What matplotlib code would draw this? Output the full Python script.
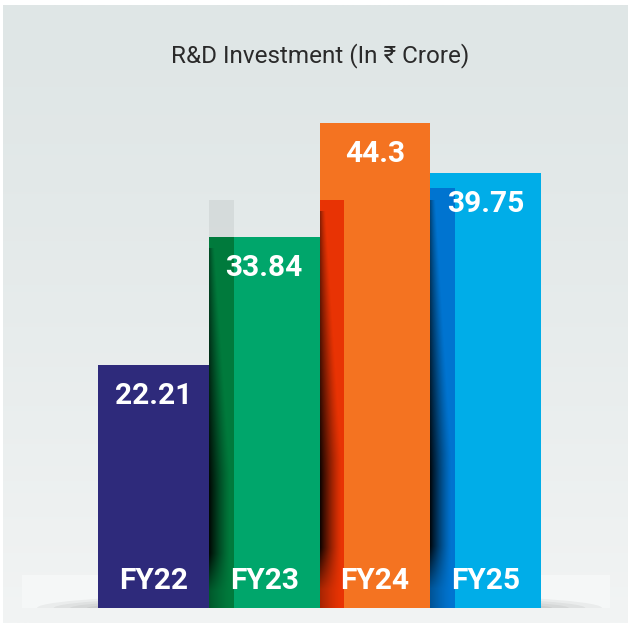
import numpy as np
import matplotlib
matplotlib.use("Agg")
import matplotlib.pyplot as plt
from matplotlib.patches import Rectangle, Ellipse

# ---------------------------------------------------------------------------
# data
# ---------------------------------------------------------------------------
years  = ["FY22", "FY23", "FY24", "FY25"]
values = [22.21, 33.84, 44.3, 39.75]
title  = "R&D Investment (In \u20b9 Crore)"

# styles
bar_colors  = ["#2E2A7B", "#00A66B", "#F47321", "#00ADE8"]
fold_colors = [None, "#007A3C", "#E83304", "#0074D0"]
fold_tops   = [None, 37.3, 37.3, 38.4]      # decorative fold height (data units)
fold_w      = 0.225
W, H = 628, 623
px_x = 110.75        # pixels per bar unit
px_y = 10.95         # pixels per value unit
base_px = 15         # baseline, pixels from bottom

plt.rcParams["font.family"] = ["Roboto", "DejaVu Sans"]

fig = plt.figure(figsize=(W / 100, H / 100), dpi=100)
fig.patch.set_facecolor("white")

# background panel with vertical gradient
bg = fig.add_axes([3 / W, 0, 1 - 3 / W, 1 - 5 / H])
grad = np.linspace(0, 1, 256)[:, None]
top_c = np.array([0xDF, 0xE6, 0xE6]) / 255
bot_c = np.array([0xF2, 0xF4, 0xF4]) / 255
g = grad[..., None] ** 1.3
img = top_c[None, None, :] * (1 - g) + bot_c[None, None, :] * g
bg.imshow(img, aspect="auto", extent=[0, 1, 0, 1], origin="upper")
bg.set_axis_off()

ax = fig.add_axes([0, 0, 1, 1])
ax.set_facecolor("none")
x0 = -0.5 - 98 / px_x
ax.set_xlim(x0, x0 + W / px_x)
y0 = -base_px / px_y
ax.set_ylim(y0, y0 + H / px_y)
ax.set_axis_off()

# floor band and soft shadow under bars (upper half only)
ax.add_patch(Rectangle((x0 + 22 / px_x, 0), (610 - 22) / px_x, 33 / px_y,
                       color="#F5F7F7", zorder=1, lw=0))
clip = Rectangle((x0, 0), W / px_x, 40, transform=ax.transData, visible=False)
ax.add_patch(clip)
for k in range(4):
    e = Ellipse((1.5, 0), 5.1 - k * 0.3, (30 - k * 5) / px_y,
                color="black", alpha=0.045, lw=0, zorder=1.2)
    ax.add_patch(e)
    e.set_clip_path(clip)
ax.add_patch(Rectangle((x0 + 29 / px_x, y0), (609 - 29) / px_x, (base_px - 2) / px_y,
                       color="#F1F3F3", zorder=1, lw=0))

x = np.arange(len(years))
ax.bar(x, values, width=1.0, color=bar_colors, zorder=2, linewidth=0)

# left-edge folds with inner shadow
for i in range(1, len(years)):
    left = x[i] - 0.5
    ft = fold_tops[i]
    h = min(ft, values[i])
    ax.add_patch(Rectangle((left, 0), fold_w, h, color=fold_colors[i], lw=0, zorder=3))
    if ft > values[i]:
        ax.add_patch(Rectangle((left, values[i]), fold_w, ft - values[i],
                               color="black", alpha=0.06, lw=0, zorder=3))
    nx, ny = 60, 200
    gx = np.linspace(0, 1, nx)[None, :]
    gy = np.linspace(0, 1, ny)[:, None]          # 0 top -> 1 bottom
    edge = 0.2 + 0.6 * np.clip(gy * 1.6, 0, 1)
    alpha = np.clip(1 - gx / edge, 0, 1) ** 1.3 * (0.4 + 0.55 * np.clip(gy * 1.5, 0, 1))
    alpha *= np.clip(1 - (gy - 0.85) / 0.15, 0.3, 1)
    rgba = np.zeros((ny, nx, 4))
    rgba[..., 3] = alpha
    ax.imshow(rgba, extent=[left, left + fold_w * 1.05, 0, h * 0.97], aspect="auto",
              origin="upper", zorder=3.5, interpolation="bilinear")

# labels
for i, (yr, v) in enumerate(zip(years, values)):
    ax.text(x[i], v - 31 / px_y, f"{v:g}", ha="center", va="center",
            color="white", fontsize=21.5, fontweight="bold", zorder=5)
    ax.text(x[i], 27 / px_y, yr, ha="center", va="center",
            color="white", fontsize=21.5, fontweight="bold", zorder=5)

fig.text(320 / W, 1 - 56 / H, title, ha="center", va="center",
         fontsize=17.5, fontweight="normal", color="#2a2a2a")

fig.savefig("out.png", dpi=100)
